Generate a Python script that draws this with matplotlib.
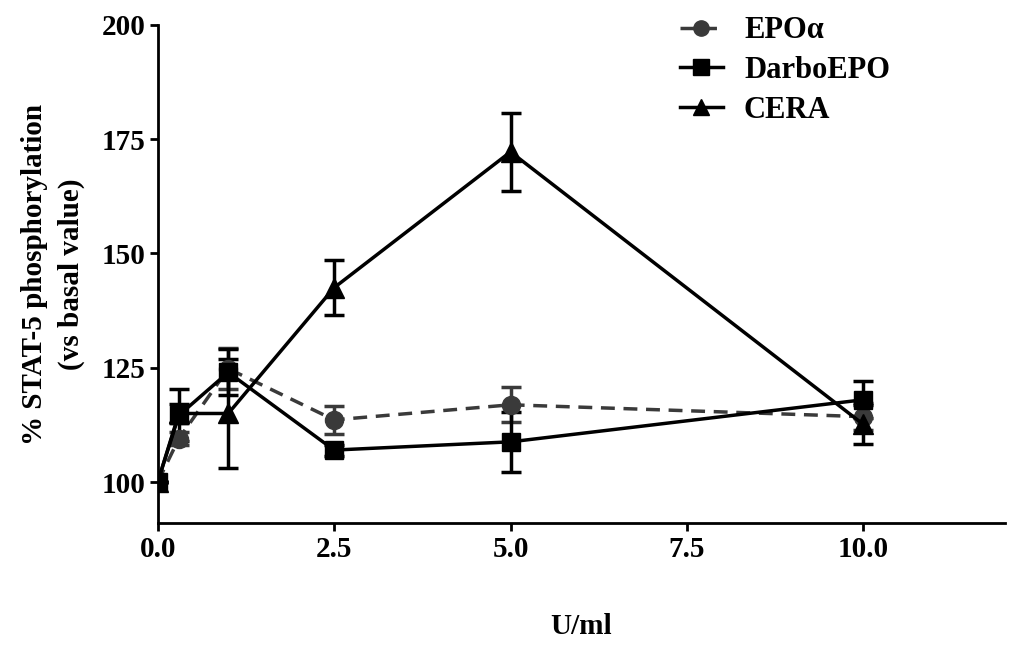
import matplotlib.pyplot as plt
from matplotlib.lines import Line2D

plt.rcParams["font.family"] = ["Liberation Serif", "DejaVu Serif"]
plt.rcParams["font.weight"] = "bold"

# ── data ─────────────────────────────────────────────────────────────────────
dose = [0.0, 0.3, 1.0, 2.5, 5.0, 10.0]

epo_mean = [100.0, 109.5, 124.8, 113.6, 116.9, 114.3]
epo_err = [0.0, 1.5, 4.5, 3.0, 3.8, 3.0]

darbo_mean = [100.0, 114.6, 124.0, 107.0, 108.8, 118.0]
darbo_err = [0.0, 5.7, 5.0, 1.2, 6.5, 4.0]

cera_mean = [100.0, 115.0, 115.0, 142.5, 172.2, 112.6]
cera_err = [0.0, 2.0, 12.0, 6.0, 8.5, 4.2]

series_labels = ["EPOα", "DarboEPO", "CERA"]

# ── plot ─────────────────────────────────────────────────────────────────────
fig = plt.figure(figsize=(10.24, 6.5), dpi=100)
ax = fig.add_axes([0.154, 0.195, 0.827, 0.767])

common = dict(capsize=7, capthick=2.5, elinewidth=2.5, linewidth=2.5)
epo_dash = (0, (4, 2.5))

ax.errorbar(dose, epo_mean, yerr=epo_err, color="#3a3a3a", marker="o",
            markersize=13, linestyle=epo_dash, **common)
ax.errorbar(dose, cera_mean, yerr=cera_err, color="black", marker="^",
            markersize=14, linestyle="-", **common)
ax.errorbar(dose, darbo_mean, yerr=darbo_err, color="black", marker="s",
            markersize=13, linestyle="-", **common)

ax.set_xlim(0, 12)
ax.set_ylim(91, 200)
ax.set_xticks([0, 2.5, 5.0, 7.5, 10.0])
ax.set_xticklabels(["0.0", "2.5", "5.0", "7.5", "10.0"])
ax.set_yticks([100, 125, 150, 175, 200])

for side in ["top", "right"]:
    ax.spines[side].set_visible(False)
for side in ["left", "bottom"]:
    ax.spines[side].set_linewidth(2)
ax.tick_params(direction="out", length=6, width=2, labelsize=21, pad=3)
for lab in ax.get_xticklabels() + ax.get_yticklabels():
    lab.set_fontweight("bold")

ax.set_xlabel("U/ml", fontsize=21, fontweight="bold", labelpad=36)
ax.set_ylabel("% STAT-5 phosphorylation\n(vs basal value)", fontsize=21,
              fontweight="bold", labelpad=12, linespacing=1.45)

# legend handles without error bars, like the original
handles = [
    Line2D([], [], color="#3a3a3a", marker="o", markersize=11,
           linewidth=2.5, linestyle=epo_dash),
    Line2D([], [], color="black", marker="s", markersize=11, linewidth=2.5),
    Line2D([], [], color="black", marker="^", markersize=12, linewidth=2.5),
]
ax.legend(handles, series_labels, loc="upper left",
          bbox_to_anchor=(0.637, 1.017), bbox_transform=fig.transFigure,
          frameon=False, prop={"size": 22, "weight": "bold"},
          handlelength=1.4, handletextpad=0.7, labelspacing=0.35)

plt.savefig("out.png", dpi=100)
